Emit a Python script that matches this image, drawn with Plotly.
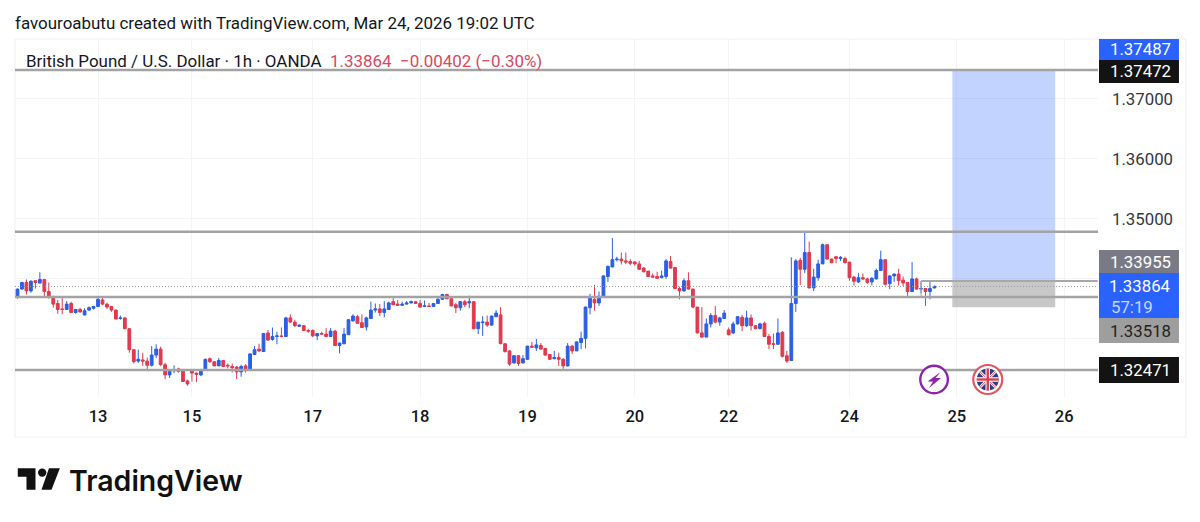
import plotly.graph_objects as go

opens = [1.3368,1.3382,1.3393,1.3379,1.3396,1.3392,1.3398,1.3378,1.3369,1.3358,
1.3349,1.3348,1.3358,1.3343,1.3348,1.3339,1.3347,1.3350,1.3353,1.3364,
1.3357,1.3353,1.3347,1.3333,1.3334,1.3316,1.3281,1.3262,1.3264,1.3262,
1.3255,1.3272,1.3282,1.3256,1.3239,1.3246,1.3249,1.3246,1.3229,1.3246,
1.3242,1.3239,1.3248,1.3266,1.3261,1.3254,1.3263,1.3255,1.3253,1.3252,
1.3244,1.3254,1.3249,1.3273,1.3282,1.3278,1.3309,1.3298,1.3303,1.3304,
1.3303,1.3334,1.3327,1.3320,1.3321,1.3313,1.3313,1.3304,1.3308,1.3307,
1.3303,1.3312,1.3288,1.3291,1.3306,1.3329,1.3336,1.3326,1.3319,1.3333,
1.3347,1.3349,1.3343,1.3348,1.3361,1.3357,1.3355,1.3357,1.3359,1.3361,
1.3358,1.3353,1.3354,1.3353,1.3358,1.3365,1.3373,1.3366,1.3356,1.3351,
1.3361,1.3359,1.3361,1.3316,1.3326,1.3327,1.3322,1.3336,1.3339,1.3291,
1.3279,1.3259,1.3271,1.3259,1.3265,1.3287,1.3284,1.3288,1.3283,1.3273,
1.3266,1.3268,1.3265,1.3254,1.3287,1.3279,1.3293,1.3300,1.3351,1.3365,
1.3359,1.3369,1.3403,1.3419,1.3431,1.3432,1.3429,1.3428,1.3427,1.3424,
1.3417,1.3412,1.3404,1.3403,1.3401,1.3403,1.3428,1.3418,1.3383,1.3379,
1.3396,1.3382,1.3352,1.3309,1.3302,1.3324,1.3338,1.3327,1.3333,1.3314,
1.3309,1.3324,1.3335,1.3321,1.3334,1.3321,1.3316,1.3325,1.3303,1.3291,
1.3290,1.3310,1.3271,1.3263,1.3358,1.3430,1.3415,1.3443,1.3384,1.3401,
1.3424,1.3456,1.3432,1.3436,1.3433,1.3433,1.3427,1.3402,1.3394,1.3401,
1.3399,1.3394,1.3399,1.3413,1.3431,1.3391,1.3404,1.3407,1.3397,1.3393,
1.3378,1.3399,1.3382,1.3383,1.3378,1.3384]
highs = [1.3383,1.3394,1.3398,1.3397,1.3397,1.3410,1.3399,1.3393,1.3371,1.3364,
1.3367,1.3362,1.3361,1.3349,1.3351,1.3350,1.3353,1.3354,1.3367,1.3369,
1.3359,1.3354,1.3348,1.3338,1.3335,1.3317,1.3282,1.3281,1.3276,1.3268,
1.3287,1.3290,1.3286,1.3259,1.3248,1.3255,1.3251,1.3247,1.3231,1.3248,
1.3243,1.3249,1.3266,1.3268,1.3262,1.3267,1.3264,1.3258,1.3258,1.3254,
1.3256,1.3257,1.3275,1.3287,1.3291,1.3309,1.3314,1.3318,1.3311,1.3318,
1.3336,1.3340,1.3331,1.3322,1.3322,1.3316,1.3315,1.3309,1.3311,1.3317,
1.3317,1.3314,1.3293,1.3317,1.3332,1.3340,1.3339,1.3340,1.3336,1.3361,
1.3358,1.3357,1.3362,1.3361,1.3367,1.3364,1.3361,1.3362,1.3363,1.3362,
1.3364,1.3363,1.3359,1.3359,1.3367,1.3374,1.3374,1.3368,1.3359,1.3362,
1.3364,1.3371,1.3362,1.3327,1.3337,1.3338,1.3338,1.3347,1.3352,1.3291,
1.3280,1.3272,1.3272,1.3272,1.3287,1.3294,1.3299,1.3292,1.3284,1.3274,
1.3279,1.3276,1.3267,1.3292,1.3289,1.3295,1.3311,1.3353,1.3374,1.3389,
1.3378,1.3405,1.3421,1.3467,1.3436,1.3443,1.3443,1.3432,1.3429,1.3429,
1.3419,1.3412,1.3408,1.3411,1.3413,1.3432,1.3437,1.3418,1.3386,1.3400,
1.3410,1.3383,1.3352,1.3352,1.3333,1.3342,1.3354,1.3336,1.3347,1.3318,
1.3328,1.3337,1.3339,1.3346,1.3340,1.3322,1.3326,1.3328,1.3307,1.3308,
1.3333,1.3312,1.3279,1.3435,1.3432,1.3434,1.3479,1.3461,1.3416,1.3431,
1.3458,1.3456,1.3433,1.3437,1.3437,1.3436,1.3427,1.3404,1.3409,1.3408,
1.3401,1.3402,1.3416,1.3446,1.3431,1.3405,1.3408,1.3416,1.3403,1.3393,
1.3427,1.3401,1.3395,1.3384,1.3395,1.3388]
lows = [1.3366,1.3381,1.3373,1.3376,1.3383,1.3392,1.3368,1.3366,1.3351,1.3341,
1.3340,1.3347,1.3343,1.3341,1.3343,1.3338,1.3346,1.3348,1.3352,1.3355,
1.3349,1.3344,1.3332,1.3331,1.3315,1.3276,1.3258,1.3259,1.3254,1.3247,
1.3253,1.3267,1.3254,1.3232,1.3234,1.3242,1.3243,1.3227,1.3221,1.3228,
1.3227,1.3237,1.3247,1.3259,1.3254,1.3254,1.3252,1.3250,1.3243,1.3232,
1.3236,1.3243,1.3248,1.3272,1.3277,1.3278,1.3296,1.3296,1.3290,1.3302,
1.3302,1.3326,1.3319,1.3319,1.3312,1.3309,1.3302,1.3297,1.3306,1.3302,
1.3302,1.3287,1.3275,1.3290,1.3306,1.3328,1.3324,1.3317,1.3313,1.3333,
1.3343,1.3337,1.3335,1.3347,1.3355,1.3354,1.3354,1.3356,1.3358,1.3358,
1.3351,1.3352,1.3352,1.3352,1.3358,1.3364,1.3365,1.3353,1.3342,1.3346,
1.3352,1.3350,1.3315,1.3307,1.3304,1.3319,1.3321,1.3335,1.3290,1.3276,
1.3254,1.3258,1.3254,1.3258,1.3264,1.3284,1.3279,1.3281,1.3271,1.3264,
1.3265,1.3254,1.3249,1.3253,1.3274,1.3279,1.3282,1.3283,1.3340,1.3346,
1.3354,1.3368,1.3394,1.3418,1.3428,1.3423,1.3424,1.3422,1.3421,1.3414,
1.3410,1.3403,1.3401,1.3399,1.3400,1.3399,1.3416,1.3382,1.3365,1.3378,
1.3381,1.3350,1.3308,1.3301,1.3302,1.3318,1.3325,1.3321,1.3332,1.3305,
1.3307,1.3323,1.3312,1.3319,1.3313,1.3315,1.3315,1.3302,1.3282,1.3282,
1.3289,1.3268,1.3259,1.3262,1.3344,1.3389,1.3409,1.3383,1.3379,1.3396,
1.3424,1.3431,1.3425,1.3425,1.3429,1.3425,1.3396,1.3388,1.3392,1.3397,
1.3391,1.3388,1.3398,1.3412,1.3388,1.3382,1.3394,1.3388,1.3387,1.3367,
1.3377,1.3381,1.3375,1.3354,1.3365,1.3383]
closes = [1.3382,1.3393,1.3379,1.3395,1.3393,1.3398,1.3378,1.3368,1.3357,1.3348,
1.3348,1.3357,1.3343,1.3348,1.3344,1.3346,1.3351,1.3353,1.3365,1.3357,
1.3352,1.3347,1.3332,1.3334,1.3316,1.3281,1.3261,1.3265,1.3262,1.3255,
1.3272,1.3282,1.3256,1.3239,1.3246,1.3248,1.3245,1.3228,1.3224,1.3242,
1.3240,1.3248,1.3265,1.3261,1.3254,1.3263,1.3253,1.3254,1.3251,1.3244,
1.3253,1.3249,1.3274,1.3281,1.3279,1.3308,1.3297,1.3303,1.3304,1.3303,
1.3334,1.3327,1.3321,1.3322,1.3313,1.3312,1.3304,1.3308,1.3307,1.3303,
1.3312,1.3288,1.3292,1.3307,1.3331,1.3337,1.3325,1.3318,1.3334,1.3347,
1.3349,1.3343,1.3349,1.3359,1.3356,1.3355,1.3357,1.3359,1.3361,1.3358,
1.3352,1.3354,1.3353,1.3358,1.3365,1.3373,1.3366,1.3354,1.3351,1.3361,
1.3356,1.3361,1.3316,1.3327,1.3327,1.3322,1.3337,1.3342,1.3291,1.3278,
1.3257,1.3271,1.3258,1.3266,1.3287,1.3285,1.3289,1.3282,1.3272,1.3265,
1.3268,1.3265,1.3254,1.3287,1.3279,1.3294,1.3300,1.3352,1.3367,1.3359,
1.3370,1.3404,1.3420,1.3431,1.3432,1.3429,1.3427,1.3425,1.3424,1.3415,
1.3411,1.3403,1.3402,1.3400,1.3404,1.3429,1.3417,1.3383,1.3379,1.3396,
1.3382,1.3352,1.3309,1.3302,1.3324,1.3338,1.3327,1.3334,1.3342,1.3306,
1.3324,1.3336,1.3321,1.3334,1.3321,1.3316,1.3324,1.3303,1.3290,1.3290,
1.3309,1.3270,1.3262,1.3358,1.3429,1.3415,1.3443,1.3384,1.3402,1.3424,
1.3456,1.3432,1.3426,1.3433,1.3435,1.3426,1.3401,1.3395,1.3401,1.3399,
1.3393,1.3400,1.3413,1.3431,1.3390,1.3404,1.3407,1.3396,1.3392,1.3378,
1.3399,1.3382,1.3383,1.3378,1.3383,1.33864]

tick_pos = [18, 39, 66, 90, 114, 138, 159, 186, 210, 234]
tick_labels = ["13", "15", "17", "18", "19", "20", "22", "24", "25", "26"]
price_ticks = [1.33, 1.34, 1.35, 1.36, 1.37]
price_tick_text = ["", "", "1.35000", "1.36000", "1.37000"]
levels = [1.37472, 1.34777, 1.33688, 1.32471]
entry, stop, target, last = 1.33955, 1.33518, 1.37487, 1.33864
pos_start, pos_left, pos_right = 202, 209, 232

W, H = 1200, 522
L, R, T, B = 14.5, 1098, 39, 397
px = lambda x: (x - L) / (R - L)
py = lambda y: (B - y) / (B - T)
pp = dict(xref="paper", yref="paper")

shapes, annos = [], []

def box(x0, y0, x1, y1, fill, line="rgba(0,0,0,0)", lw=0, layer="above"):
    shapes.append(dict(type="rect", x0=px(x0), x1=px(x1), y0=py(y1), y1=py(y0), fillcolor=fill,
                       line=dict(color=line, width=lw), layer=layer, **pp))

def seg(x0, y0, x1, y1, color, w):
    shapes.append(dict(type="line", x0=px(x0), x1=px(x1), y0=py(y0), y1=py(y1),
                       line=dict(color=color, width=w), **pp))

def poly(points, fill):
    d = "M" + " L".join(f"{px(x):.5f},{py(y):.5f}" for x, y in points) + " Z"
    shapes.append(dict(type="path", path=d, fillcolor=fill, line=dict(width=0), **pp))

def circle(cx, cy, r, fill, line="rgba(0,0,0,0)", lw=0):
    shapes.append(dict(type="circle", x0=px(cx - r), x1=px(cx + r), y0=py(cy + r), y1=py(cy - r),
                       fillcolor=fill, line=dict(color=line, width=lw), **pp))

def text(x, y, s, size, color, anchor="left", family="Roboto", weight=400):
    annos.append(dict(x=px(x), y=py(y), text=s, showarrow=False, xanchor=anchor, yanchor="middle",
                      font=dict(family=family, size=size, color=color, weight=weight), **pp))

# position tool and levels
shapes.append(dict(type="rect", xref="x", yref="y", x0=pos_left, x1=pos_right, y0=entry, y1=levels[0],
                   fillcolor="rgba(41,98,255,0.28)", line=dict(width=0)))
shapes.append(dict(type="rect", xref="x", yref="y", x0=pos_left, x1=pos_right, y0=stop, y1=entry,
                   fillcolor="rgba(110,110,110,0.38)", line=dict(width=0)))
for lv in levels:
    shapes.append(dict(type="line", xref="paper", yref="y", x0=0, x1=1, y0=lv, y1=lv,
                       line=dict(color="#a3a3a3", width=2.4)))
shapes.append(dict(type="line", xref="x", yref="y", x0=pos_start, x1=241.5, y0=entry, y1=entry,
                   line=dict(color="#a8a8a8", width=2.2)))
shapes.append(dict(type="line", xref="x", yref="y", x0=pos_start, x1=pos_start, y0=levels[2], y1=entry,
                   line=dict(color="#a8a8a8", width=1)))
shapes.append(dict(type="line", xref="paper", yref="y", x0=0, x1=1, y0=last, y1=last,
                   line=dict(color="#9a9a9a", width=1, dash="1px,2px")))

# outer frame
box(14.5, 39, 1186, 437, "rgba(0,0,0,0)", "#eeeff1", 1, "below")

# price labels
for y0, y1, c in [(39, 60, "#2962ff"), (60, 83, "#131313"), (250, 273, "#787b86"), (318, 343, "#9e9e9e"),
                  (273, 318, "#2962ff"), (357, 383, "#131313")]:
    box(1099, y0, 1179, y1, c)
for y, s, c in [(48.5, "1.37487", "#ffffff"), (71, "1.37472", "#ffffff"), (262, "1.33955", "#ffffff"),
                (286, "1.33864", "#ffffff"), (307, "57:19", "#c9d6fb"), (331, "1.33518", "#222222"),
                (370, "1.32471", "#ffffff")]:
    if s == "57:19":
        text(1109.5, y, s, 16.8, c)
    else:
        text(1173.5, y, s, 16.8, c, "right")

# header and legend texts
text(12.5, 23, "favouroabutu created with TradingView.com, Mar 24, 2026 19:02 UTC", 16.95, "#131722")
text(23.5, 61, "British Pound / U.S. Dollar · 1h · OANDA", 16.95, "#131722")
text(327.5, 61, "1.33864  −0.00402 (−0.30%)", 16.95, "#d9485f")

# logo
poly([(17.3, 468.3), (35, 468.3), (35, 489.7), (26, 489.7), (26, 476.7), (17.3, 476.7)], "#111111")
circle(41.7, 472.6, 4.2, "#111111")
poly([(48.5, 468.3), (59.4, 468.3), (51, 489.7), (41, 489.7)], "#111111")
text(66.5, 480.5, "TradingView", 28.5, "#111111", family="Inter", weight=600)

# purple event icon
circle(934, 379.5, 13.8, "#ffffff", "#8e24aa", 2.4)
poly([(940.5, 372), (927.5, 381.5), (933, 381.5), (929, 388), (941, 378), (935.5, 378)], "#8e24aa")

# flag icon
fx, fy = 987.7, 379.5
circle(fx, fy, 14.5, "#ffffff", "#e25562", 2.2)
circle(fx, fy, 11, "#27407f")
d = 7.6
seg(fx - d, fy - d, fx + d, fy + d, "#ffffff", 2.6)
seg(fx - d, fy + d, fx + d, fy - d, "#ffffff", 2.6)
seg(fx - d, fy - d, fx + d, fy + d, "#d8404f", 1)
seg(fx - d, fy + d, fx + d, fy - d, "#d8404f", 1)
seg(fx - 11, fy, fx + 11, fy, "#ffffff", 4.5)
seg(fx, fy - 11, fx, fy + 11, "#ffffff", 4.5)
seg(fx - 11, fy, fx + 11, fy, "#d8404f", 2.4)
seg(fx, fy - 11, fx, fy + 11, "#d8404f", 2.4)

fig = go.Figure(go.Candlestick(
    x=list(range(len(opens))), open=opens, high=highs, low=lows, close=closes,
    increasing=dict(line=dict(color="#2a5fe6", width=1), fillcolor="#2a5fe6"),
    decreasing=dict(line=dict(color="#e2394d", width=1), fillcolor="#e2394d"),
    whiskerwidth=0, hoverinfo="skip", showlegend=False,
))
x_lo = (L - 17) / 4.475
x_hi = (R - 17) / 4.475
y_lo = 1.33 + (338.3 - B) / 6000
y_hi = 1.33 + (338.3 - T) / 6000
fig.update_layout(
    width=W, height=H, autosize=False, showlegend=False, boxgap=0.38, boxgroupgap=0,
    margin=dict(l=L, r=W - R, t=T, b=H - B, pad=0),
    paper_bgcolor="#ffffff", plot_bgcolor="#ffffff",
    shapes=shapes, annotations=annos,
    font=dict(family="Roboto", color="#131722"),
    xaxis=dict(range=[x_lo, x_hi], rangeslider=dict(visible=False), tickmode="array",
               tickvals=tick_pos, ticktext=tick_labels, showgrid=True, gridcolor="#f3f4f6", gridwidth=1,
               zeroline=False, showline=False, ticks="", ticklabelstandoff=7,
               tickfont=dict(family="Roboto", size=16.5, color="#131722", weight=500)),
    yaxis=dict(range=[y_lo, y_hi], side="right", tickmode="array", tickvals=price_ticks,
               ticktext=price_tick_text, showgrid=True, gridcolor="#f3f4f6", gridwidth=1,
               zeroline=False, showline=False, ticks="", ticklabelstandoff=13, ticklabelshift=1,
               tickfont=dict(family="Roboto", size=16.8, color="#333740")),
)
fig.write_html("out.html", config=dict(displayModeBar=False),
               post_script="document.body.style.margin='0';document.documentElement.style.overflow='hidden';")
